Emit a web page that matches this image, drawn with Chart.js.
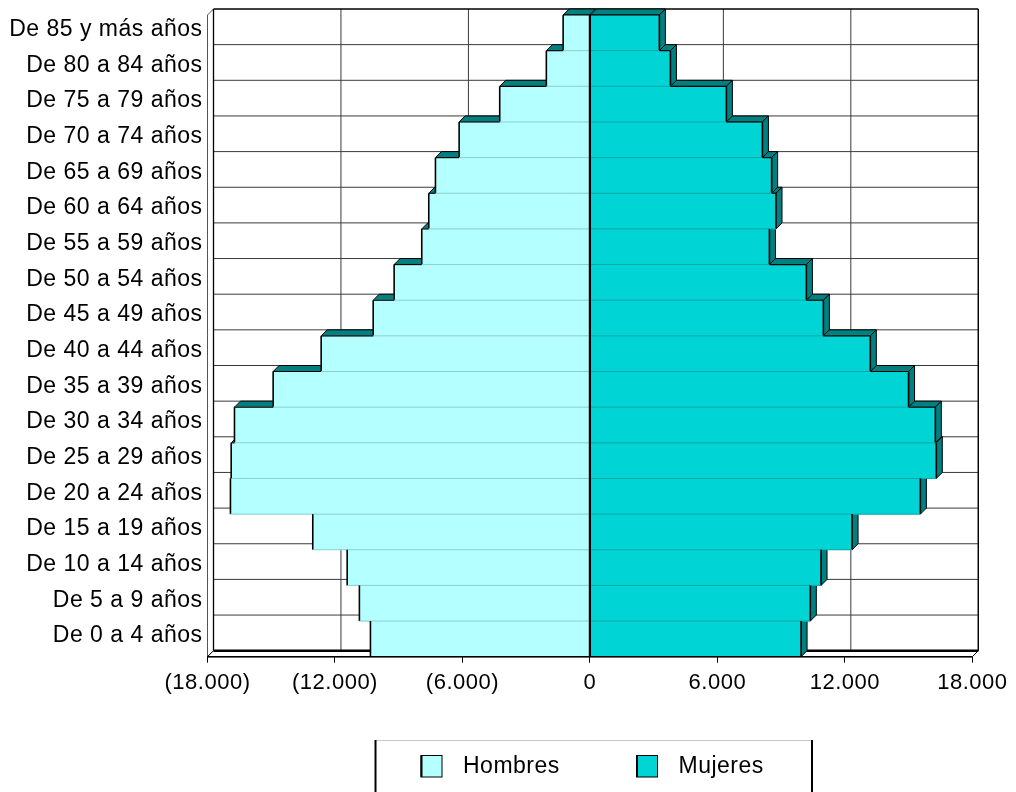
<!DOCTYPE html>
<html><head><meta charset="utf-8">
<script src="https://cdn.jsdelivr.net/npm/chart.js@4.4.1/dist/chart.umd.min.js"></script>
<style>html,body{margin:0;padding:0;background:#fff;} canvas{display:block;}</style>
</head><body>
<canvas id="c" width="1016" height="792" style="width:1016px;height:792px"></canvas>
<script>
// ---- data (top row first) ----
const categories = [
  "De 85 y más años","De 80 a 84 años","De 75 a 79 años","De 70 a 74 años",
  "De 65 a 69 años","De 60 a 64 años","De 55 a 59 años","De 50 a 54 años",
  "De 45 a 49 años","De 40 a 44 años","De 35 a 39 años","De 30 a 34 años",
  "De 25 a 29 años","De 20 a 24 años","De 15 a 19 años","De 10 a 14 años",
  "De 5 a 9 años","De 0 a 4 años"
];
const hombres = [-1260,-2050,-4245,-6155,-7270,-7585,-7915,-9215,-10200,-12650,
                 -14910,-16730,-16885,-16920,-13045,-11425,-10850,-10330];
const mujeres = [3270,3790,6425,8120,8555,8760,8450,10190,10990,13200,
                 15000,16260,16305,15555,12340,10880,10375,9940];
const xTicks = [-18000,-12000,-6000,0,6000,12000,18000];
const seriesNames = ["Hombres","Mujeres"];

// ---- style ----
const MALE = '#B4FFFF', FEMALE = '#00D4D4', SIDE = '#008080';
const MALE_SEP = '#8CCFCF', FEMALE_SEP = '#0AA8A8';
const D = 6;
const LS = '0.5px';
const FONT = "'Liberation Sans', Arial, sans-serif";

function fmt(v){
  const a = Math.abs(v).toString().replace(/\B(?=(\d{3})+(?!\d))/g,'.');
  return v < 0 ? '(' + a + ')' : a;
}
function poly(ctx, pts, fill, stroke, lw){
  ctx.beginPath(); ctx.moveTo(pts[0][0], pts[0][1]);
  for (let i = 1; i < pts.length; i++) ctx.lineTo(pts[i][0], pts[i][1]);
  ctx.closePath();
  if (fill){ ctx.fillStyle = fill; ctx.fill(); }
  if (stroke){ ctx.strokeStyle = stroke; ctx.lineWidth = lw || 1; ctx.stroke(); }
}
function seg(ctx, x1, y1, x2, y2, c, lw){
  ctx.beginPath(); ctx.moveTo(x1, y1); ctx.lineTo(x2, y2);
  ctx.strokeStyle = c; ctx.lineWidth = lw || 1; ctx.stroke();
}

const pyramid3d = {
  id: 'pyramid3d',
  beforeUpdate(chart){ chart.ctx.letterSpacing = LS; },
  beforeDraw(chart){ chart.ctx.letterSpacing = LS; },
  beforeDatasetsDraw(chart){
    const {ctx, chartArea: a, scales} = chart;
    const xs = scales.x, ys = scales.y;
    const n = categories.length;
    ctx.save();
    // back wall
    poly(ctx, [[a.left+D,a.top-D],[a.right+D,a.top-D],[a.right+D,a.bottom-D],[a.left+D,a.bottom-D]], '#fff');
    const step = a.height / n;
    for (let i = 1; i < n; i++){
      const yy = ys.getPixelForValue(i) - step/2 - D;
      seg(ctx, a.left+D, yy, a.right+D, yy, '#3a3a3a', 1);
    }
    xTicks.forEach(v => {
      const xx = xs.getPixelForValue(v) + D;
      seg(ctx, xx, a.top-D, xx, a.bottom-D, '#3a3a3a', 1);
    });
    seg(ctx, a.left+D, a.top-D, a.right+D, a.top-D, '#000', 1.3);
    seg(ctx, a.right+D, a.top-D, a.right+D, a.bottom-D, '#000', 1.3);
    // left wall
    poly(ctx, [[a.left,a.top],[a.left+D,a.top-D],[a.left+D,a.bottom-D],[a.left,a.bottom]], '#fff', '#555', 1);
    seg(ctx, a.left+D, a.top-D, a.left+D, a.bottom-D, '#000', 1.3);
    // floor
    poly(ctx, [[a.left,a.bottom],[a.left+D,a.bottom-D],[a.right+D,a.bottom-D],[a.right,a.bottom]], '#fff', '#000', 1);
    seg(ctx, a.left+D, a.bottom-D, a.right+D, a.bottom-D, '#000', 2.5);
    // 3D faces, bottom row first
    const mm = chart.getDatasetMeta(0).data, mf = chart.getDatasetMeta(1).data;
    for (let i = n-1; i >= 0; i--){
      const m = mm[i], f = mf[i];
      const t = m.y - m.height/2, b = m.y + m.height/2;
      poly(ctx, [[m.x,t],[m.x+D,t-D],[m.base+D,t-D],[m.base,t]], SIDE, '#000', 1);
      poly(ctx, [[f.base,t],[f.base+D,t-D],[f.x+D,t-D],[f.x,t]], SIDE, '#000', 1);
      poly(ctx, [[f.x,t],[f.x+D,t-D],[f.x+D,b-D],[f.x,b]], SIDE, '#000', 1);
    }
    ctx.restore();
  },
  afterDatasetsDraw(chart){
    const {ctx, chartArea: a} = chart;
    const n = categories.length;
    const mm = chart.getDatasetMeta(0).data, mf = chart.getDatasetMeta(1).data;
    ctx.save();
    for (let i = 0; i < n; i++){
      const m = mm[i], f = mf[i];
      const t = m.y - m.height/2, b = m.y + m.height/2;
      if (i > 0){
        const pm = mm[i-1], pf = mf[i-1];
        seg(ctx, Math.min(m.x, pm.x), t, m.base, t, MALE_SEP, 1);
        seg(ctx, f.base, t, Math.max(f.x, pf.x), t, FEMALE_SEP, 1);
        if (m.x < pm.x) seg(ctx, m.x, t, pm.x, t, '#000', 1.2);
        if (f.x > pf.x) seg(ctx, pf.x, t, f.x, t, '#000', 1.2);
      } else {
        seg(ctx, m.x, t, f.x, t, '#000', 1.2);
      }
      seg(ctx, m.x, t, m.x, b, '#000', 1.6);
      seg(ctx, f.x, t, f.x, b, '#000', 1.6);
    }
    const x0 = chart.scales.x.getPixelForValue(0);
    seg(ctx, x0, a.top, x0, a.bottom, '#000', 2.2);
    seg(ctx, a.left, a.bottom, a.right, a.bottom, '#000', 1.5);
    ctx.restore();
  },
  afterDraw(chart){
    const ctx = chart.ctx;
    ctx.save();
    ctx.letterSpacing = LS;
    seg(ctx, 375, 740.5, 812, 740.5, '#c8c8c8', 1);
    seg(ctx, 375.5, 740, 375.5, 800, '#000', 2);
    seg(ctx, 812, 740, 812, 800, '#000', 2);
    const items = [
      {label: chart.data.datasets[0].label, color: chart.data.datasets[0].backgroundColor, sx: 421, tx: 463},
      {label: chart.data.datasets[1].label, color: chart.data.datasets[1].backgroundColor, sx: 636.5, tx: 678.5}
    ];
    ctx.font = "23px " + FONT;
    ctx.textBaseline = 'middle';
    ctx.textAlign = 'left';
    items.forEach(it => {
      ctx.fillStyle = it.color;
      ctx.fillRect(it.sx, 755.5, 21, 21.5);
      ctx.strokeStyle = '#000'; ctx.lineWidth = 1;
      ctx.strokeRect(it.sx, 755.5, 21, 21.5);
      seg(ctx, it.sx+0.5, 755.5, it.sx+0.5, 777, '#000', 2);
      ctx.fillStyle = '#000';
      ctx.fillText(it.label, it.tx, 766.5);
    });
    ctx.restore();
  }
};

const chart = new Chart(document.getElementById('c'), {
  type: 'bar',
  data: {
    labels: categories,
    datasets: [
      {label: seriesNames[0], data: hombres, backgroundColor: MALE, borderWidth: 0,
       barPercentage: 1, categoryPercentage: 1},
      {label: seriesNames[1], data: mujeres, backgroundColor: FEMALE, borderWidth: 0,
       barPercentage: 1, categoryPercentage: 1}
    ]
  },
  options: {
    indexAxis: 'y',
    responsive: false,
    animation: false,
    layout: {padding: {left: 0, top: 15, right: 43.7, bottom: 90.3}},
    plugins: {legend: {display: false}, tooltip: {enabled: false}},
    scales: {
      x: {
        type: 'linear', stacked: true, min: -18000, max: 18000,
        afterBuildTicks(scale){ scale.ticks = xTicks.map(v => ({value: v})); },
        afterFit(scale){ scale.height = 45; scale.paddingLeft = 0; scale.paddingRight = 0; },
        grid: {display: true, drawOnChartArea: false, drawTicks: true, tickLength: 6, color: '#000', lineWidth: 1},
        border: {display: false},
        ticks: {color: '#000', padding: 7.5, font: {family: FONT, size: 22}, maxRotation: 0, autoSkip: false,
                callback: (v) => fmt(v)}
      },
      y: {
        type: 'category', stacked: true,
        afterFit(scale){ scale.width = 207.5; scale.paddingTop = 0; scale.paddingBottom = 0; },
        grid: {display: false, drawTicks: false},
        border: {display: false},
        ticks: {color: '#000', padding: 5, labelOffset: -3, autoSkip: false, font: {family: FONT, size: 23}}
      }
    }
  },
  plugins: [pyramid3d]
});
</script>
</body></html>
